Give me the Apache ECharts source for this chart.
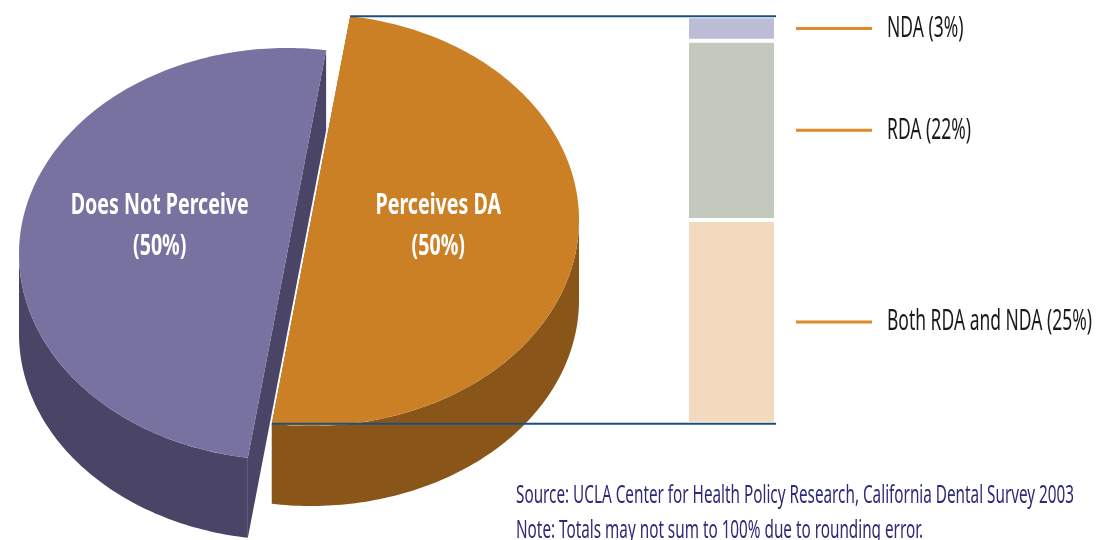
<!DOCTYPE html>
<html>
<head>
<meta charset="utf-8">
<script src="https://cdn.jsdelivr.net/npm/echarts@6/dist/echarts.min.js"></script>
<style>
html,body{margin:0;padding:0;background:#fff;}
#chart{width:1107px;height:540px;}
</style>
</head>
<body>
<div id="chart"></div>
<script>
// data
var pieNames = ['Perceives DA', 'Does Not Perceive'];
var pieValues = [50, 50];
var barNames = ['Both RDA and NDA', 'RDA', 'NDA'];
var barValues = [25, 22, 3];
var sourceText = 'Source: UCLA Center for Health Policy Research, California Dental Survey 2003';
var noteText = 'Note: Totals may not sum to 100% due to rounding error.';

var FAMILY = '"Noto Sans"';

// the original uses a tall condensed face, so text gets squeezed sideways
var measureCtx = document.createElement('canvas').getContext('2d');
function textWidth(text, weight, size) {
    measureCtx.font = weight + ' ' + size + 'px ' + FAMILY;
    return measureCtx.measureText(text).width;
}

// 3d pie layout
var CX = 299, CY = 237;      // centre of the whole pie
var RA = 268, RB = 206;      // ellipse radii
var DEPTH = 80;
var START = -81.6;           // angle where the first slice starts (deg)
var OFFSETS = [[12, -17], [-12, 17]];   // explode offsets
var TOP_COLORS = ['#CC8026', '#7872A0'];
var SIDE_COLORS = ['#8A5519', '#4A4466'];
var PIE_FONT_SIZE = 29;
var PIE_SCALE = 178 / textWidth('Does Not Perceive', 'bold', PIE_FONT_SIZE);

var pieTotal = 0;
pieValues.forEach(function (v) { pieTotal += v; });

function sliceAngles(i) {
    var before = 0;
    for (var j = 0; j < i; j++) before += pieValues[j];
    var t0 = START + 360 * before / pieTotal;
    return [t0, t0 + 360 * pieValues[i] / pieTotal];
}
function pt(c, t, dy) {
    var r = t * Math.PI / 180;
    return [c[0] + RA * Math.cos(r), c[1] + RB * Math.sin(r) + (dy || 0)];
}
function arc(c, a, b, dy) {
    var pts = [];
    var n = Math.max(2, Math.ceil(Math.abs(b - a)));
    for (var k = 0; k <= n; k++) pts.push(pt(c, a + (b - a) * k / n, dy));
    return pts;
}
function sliceCenter(i) {
    return [CX + OFFSETS[i][0], CY + OFFSETS[i][1]];
}

// the bar panel lines up with the tips of the first (exploded) slice
var firstAng = sliceAngles(0);
var tipTop = pt(sliceCenter(0), firstAng[0]);
var tipBottom = pt(sliceCenter(0), firstAng[1]);
var BAR_LEFT = 687, BAR_WIDTH = 89;
var BAR_RIGHT = BAR_LEFT + BAR_WIDTH;

function renderSlice(params, api) {
    var i = params.dataIndex;
    var ang = sliceAngles(i);
    var t0 = ang[0], t1 = ang[1];
    var c = sliceCenter(i);
    var cd = [c[0], c[1] + DEPTH];
    var children = [];

    // radial faces
    [t0, t1].forEach(function (t) {
        var p = pt(c, t), pd = pt(c, t, DEPTH);
        children.push({
            type: 'polygon',
            shape: { points: [c, p, pd, cd] },
            style: { fill: SIDE_COLORS[i] }
        });
    });
    // outer wall, front half only
    [-360, 0, 360].forEach(function (k) {
        var lo = Math.max(t0, k), hi = Math.min(t1, k + 180);
        if (hi > lo) {
            var pts = arc(c, lo, hi, 0).concat(arc(c, lo, hi, DEPTH).reverse());
            children.push({
                type: 'polygon',
                shape: { points: pts },
                style: { fill: SIDE_COLORS[i] }
            });
        }
    });
    // top face
    children.push({
        type: 'polygon',
        shape: { points: [c].concat(arc(c, t0, t1, 0)) },
        style: { fill: TOP_COLORS[i] }
    });
    // label, on the pie's horizontal centre line
    var tm = (t0 + t1) / 2 * Math.PI / 180;
    children.push({
        type: 'text',
        x: c[0] + 0.48 * RA * Math.cos(tm),
        y: CY - 11,
        scaleX: PIE_SCALE,
        style: {
            text: pieNames[i] + '\n(' + api.value(0) + '%)',
            x: 0,
            y: 0,
            fill: '#fff',
            fontSize: PIE_FONT_SIZE,
            fontWeight: 'bold',
            fontFamily: FAMILY,
            lineHeight: 41,
            align: 'center',
            verticalAlign: 'middle'
        }
    });
    // connector lines to the breakdown bar
    if (i === 0) {
        [pt(c, t0), pt(c, t1)].forEach(function (p) {
            children.push({
                type: 'line',
                shape: { x1: p[0], y1: p[1], x2: BAR_RIGHT, y2: p[1] },
                style: { stroke: '#1B4F80', lineWidth: 2 }
            });
        });
    }
    return { type: 'group', children: children };
}

var barColors = ['#F3D9BD', '#C4C9BE', '#BDBCD7'];
var BAR_FONT_SIZE = 29;
var BAR_SCALE = 205 / textWidth('Both RDA and NDA (25%)', 'normal', BAR_FONT_SIZE);

function renderBarLabel(params, api) {
    var k = params.dataIndex;
    var base = 0;
    for (var j = 0; j < k; j++) base += barValues[j];
    var mid = api.coord([0, base + api.value(1) / 2]);
    var x0 = mid[0] + api.size([1, 0])[0] / 2 + 20;
    return {
        type: 'group',
        children: [{
            type: 'line',
            shape: { x1: x0, y1: mid[1], x2: x0 + 76, y2: mid[1] },
            style: { stroke: '#E08A2B', lineWidth: 3 }
        }, {
            type: 'text',
            x: x0 + 91,
            y: mid[1],
            scaleX: BAR_SCALE,
            style: {
                text: barNames[k] + ' (' + api.value(1) + '%)',
                x: 0, y: 0,
                fill: '#1a1a1a',
                fontSize: BAR_FONT_SIZE,
                fontFamily: FAMILY,
                verticalAlign: 'middle'
            }
        }]
    };
}

var barSeries = barNames.map(function (name, k) {
    return {
        name: name,
        type: 'bar',
        stack: 'da',
        barWidth: '100%',
        data: [barValues[k]],
        itemStyle: { color: barColors[k], borderColor: '#fff', borderWidth: 2 },
        z: 1
    };
});

var NOTE_FONT_SIZE = 26;
var NOTE_SCALE = 558 / textWidth(sourceText, 'normal', NOTE_FONT_SIZE);
function noteLine(text, y) {
    return {
        type: 'text',
        x: 516,
        y: y,
        scaleX: NOTE_SCALE,
        style: {
            text: text,
            x: 0, y: 0,
            fill: '#2E2A78',
            fontSize: NOTE_FONT_SIZE,
            fontFamily: FAMILY,
            verticalAlign: 'middle'
        }
    };
}

var chart = echarts.init(document.getElementById('chart'));
chart.setOption({
    animation: false,
    graphic: [noteLine(sourceText, 496), noteLine(noteText, 531)],
    grid: {
        left: BAR_LEFT,
        width: BAR_WIDTH,
        top: tipTop[1],
        height: tipBottom[1] - tipTop[1]
    },
    xAxis: { type: 'category', data: [''], show: false },
    yAxis: { type: 'value', min: 0, max: pieValues[0], show: false },
    series: [{
        type: 'custom',
        coordinateSystem: 'none',
        renderItem: renderSlice,
        data: pieValues,
        z: 5
    }].concat(barSeries).concat([{
        type: 'custom',
        coordinateSystem: 'cartesian2d',
        renderItem: renderBarLabel,
        data: barValues.map(function (v) { return [0, v]; }),
        silent: true,
        z: 3
    }])
});
</script>
</body>
</html>
